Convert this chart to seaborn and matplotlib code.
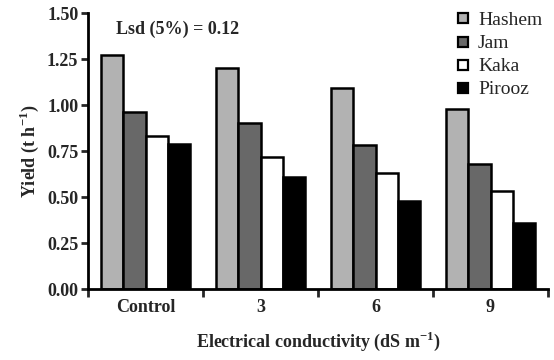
import matplotlib
matplotlib.use("Agg")
import matplotlib.pyplot as plt
import seaborn as sns
import pandas as pd
from matplotlib.ticker import FixedLocator, NullFormatter
from matplotlib.lines import Line2D
from matplotlib.font_manager import FontProperties

groups = ["Control", "3", "6", "9"]
cultivars = ["Hashem", "Jam", "Kaka", "Pirooz"]
hashem = [1.27, 1.20, 1.09, 0.98]
jam = [0.96, 0.90, 0.78, 0.68]
kaka = [0.83, 0.72, 0.63, 0.53]
pirooz = [0.79, 0.61, 0.48, 0.36]
colors = ["#b2b2b2", "#686868", "#ffffff", "#000000"]
yticks = [0.00, 0.25, 0.50, 0.75, 1.00, 1.25, 1.50]

rows = []
for name, vals in zip(cultivars, [hashem, jam, kaka, pirooz]):
    for g, v in zip(groups, vals):
        rows.append({"group": g, "cultivar": name, "yield": v})
df = pd.DataFrame(rows)

sns.set_style("white")
plt.rcParams["font.family"] = ["Liberation Serif", "DejaVu Serif"]
plt.rcParams["mathtext.fontset"] = "custom"
plt.rcParams["mathtext.rm"] = "Liberation Serif:bold"
plt.rcParams["mathtext.bf"] = "Liberation Serif:bold"

fig = plt.figure(figsize=(5.54, 3.6), dpi=100)
ax = fig.add_axes([88/554, 1-289/360, (548-88)/554, (289-13)/360])

sns.barplot(data=df, x="group", y="yield", hue="cultivar", order=groups,
            hue_order=cultivars, palette=colors, width=0.78,
            edgecolor="black", linewidth=1.8, saturation=1, ax=ax, legend=False)

ax.set_ylim(0, 1.5)
ax.set_xlim(-0.5, 3.5)
ax.set_yticks(yticks)
ax.set_yticklabels([f"{t:.2f}" for t in yticks], fontweight="bold", fontsize=13)
ax.xaxis.set_major_locator(FixedLocator([-0.5, 0.5, 1.5, 2.5, 3.5]))
ax.xaxis.set_major_formatter(NullFormatter())
ax.xaxis.set_minor_locator(FixedLocator([0, 1, 2, 3]))
ax.set_xticklabels(groups, minor=True, fontweight="bold", fontsize=13)
ax.tick_params(axis="x", which="minor", length=0, pad=7)
ax.tick_params(axis="x", which="major", length=6, width=2, direction="out", bottom=True)
ax.tick_params(axis="y", length=5, width=2, direction="out", left=True, pad=2)

for s in ["top", "right"]:
    ax.spines[s].set_visible(False)
for s in ["left", "bottom"]:
    ax.spines[s].set_linewidth(2)
    ax.spines[s].set_color("black")

ax.set_xlabel("Electrical conductivity (dS m$^{-1}$)", fontweight="bold", fontsize=13, labelpad=10)
ax.set_ylabel("Yield (t h$^{-1}$)", fontweight="bold", fontsize=13, labelpad=4)

ax.text(0.06, 0.94, "Lsd (5%) = 0.12", transform=ax.transAxes, fontweight="bold",
        fontsize=13, ha="left", va="center")

handles = [Line2D([], [], marker="s", linestyle="none", markersize=7,
                  markerfacecolor=c, markeredgecolor="black", markeredgewidth=1.6)
           for c in colors]
leg = fig.legend(handles, cultivars, loc="upper right", bbox_to_anchor=(1.0, 1.0),
                 frameon=False, prop=FontProperties(family="Liberation Serif", size=14),
                 handletextpad=0.3, labelspacing=0.28,
                 handlelength=1.0, borderaxespad=0.2)

fig.savefig("out.png", dpi=100)
